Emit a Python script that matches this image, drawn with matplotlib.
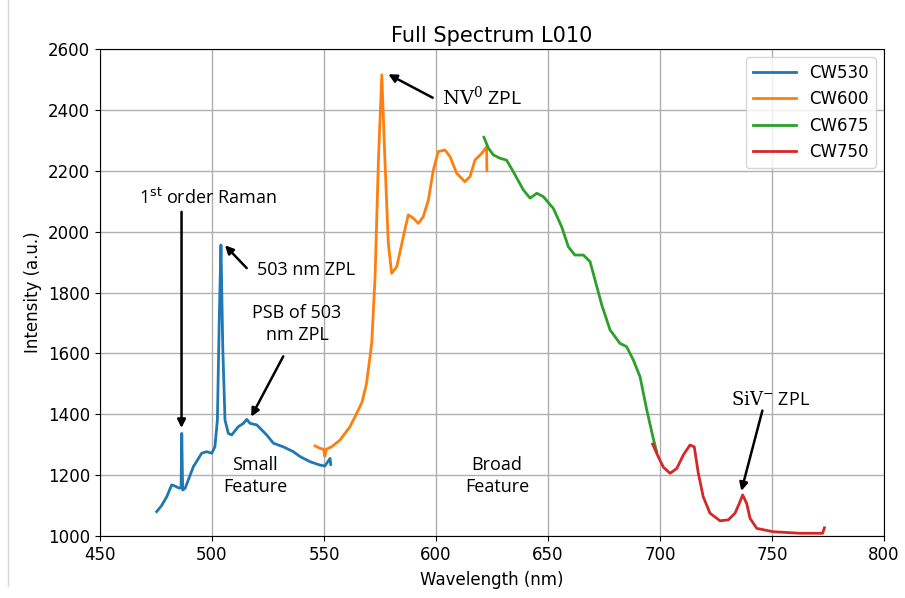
import numpy as np
import matplotlib
matplotlib.use("Agg")
import matplotlib.pyplot as plt
from matplotlib.lines import Line2D

cw530_wl = [475.3, 477.5, 479.8, 482.0, 483.5, 485.4, 486.2, 486.5, 486.9, 488.0, 491.7,
            495.4, 497.6, 499.9, 501.3, 502.4, 503.3, 504.0, 504.8, 505.8, 507.3, 508.8,
            511.7, 514.0, 515.5, 517.0, 520.0, 524.4, 527.4, 531.8, 536.3, 539.3, 543.8,
            548.2, 550.4, 552.7, 553.0]
cw530_i = [1080, 1100, 1129, 1168, 1164, 1157, 1160, 1337, 1151, 1157, 1228,
           1272, 1277, 1272, 1293, 1381, 1732, 1956, 1622, 1381, 1337, 1332,
           1359, 1370, 1383, 1370, 1365, 1332, 1305, 1293, 1277, 1261, 1244,
           1233, 1230, 1255, 1235]

cw600_wl = [546.0, 548.2, 549.8, 550.4, 551.0, 553.4, 557.1, 561.6, 564.6, 567.0, 569.0,
            571.3, 572.8, 574.3, 575.8, 577.2, 578.7, 580.2, 582.5, 585.4, 587.6, 589.9,
            592.1, 594.3, 596.6, 598.8, 601.0, 604.0, 606.3, 609.2, 612.9, 615.2, 617.4,
            620.4, 622.6, 622.7]
cw600_i = [1296, 1288, 1285, 1262, 1285, 1293, 1315, 1359, 1403, 1440, 1502,
           1633, 1852, 2235, 2515, 2235, 1962, 1863, 1885, 1983, 2055, 2044,
           2027, 2049, 2104, 2202, 2263, 2268, 2246, 2192, 2164, 2181, 2235,
           2257, 2279, 2200]

cw675_wl = [621.4, 623.4, 625.6, 628.6, 631.5, 634.5, 639.0, 642.0, 645.0, 647.9, 652.4,
            656.1, 659.1, 662.0, 665.8, 668.8, 671.0, 674.0, 677.7, 682.1, 685.1, 688.1,
            691.1, 694.1, 697.0, 698.5]
cw675_i = [2310, 2274, 2252, 2241, 2235, 2197, 2137, 2110, 2126, 2115, 2076,
           2016, 1950, 1923, 1923, 1901, 1841, 1759, 1677, 1633, 1622, 1578,
           1523, 1414, 1320, 1277]

cw750_wl = [696.7, 699.2, 701.5, 704.5, 707.5, 710.4, 713.4, 715.3, 717.1, 719.3, 722.3,
            726.8, 730.5, 733.5, 735.4, 736.9, 738.7, 740.2, 743.2, 750.6, 762.5, 772.6,
            773.4]
cw750_i = [1302, 1261, 1226, 1206, 1222, 1266, 1299, 1293, 1206, 1129, 1075,
           1050, 1053, 1075, 1107, 1135, 1107, 1058, 1025, 1014, 1009, 1009,
           1027]

series = [("CW530", cw530_wl, cw530_i, "#1f77b4"),
          ("CW600", cw600_wl, cw600_i, "#ff7f0e"),
          ("CW675", cw675_wl, cw675_i, "#2ca02c"),
          ("CW750", cw750_wl, cw750_i, "#d62728")]

fig = plt.figure(figsize=(9.05, 5.98), dpi=100)
ax = fig.add_axes([100 / 905, 62 / 598, 784 / 905, 487 / 598])

for name, wl, inten, col in series:
    ax.plot(wl, inten, color=col, lw=2, label=name)

ax.set_xlim(450, 800)
ax.set_ylim(1000, 2600)
ax.set_xticks(np.arange(450, 801, 50))
ax.set_yticks(np.arange(1000, 2601, 200))
ax.tick_params(labelsize=12)
ax.grid(True, color="#b0b0b0", lw=1)
ax.set_axisbelow(True)
ax.set_title("Full Spectrum L010", fontsize=15, pad=5)
ax.set_xlabel("Wavelength (nm)", fontsize=12, labelpad=5)
ax.set_ylabel("Intensity (a.u.)", fontsize=12)
ax.legend(loc="upper right", fontsize=12, handlelength=2.6)

# annotations
ann_font = dict(fontsize=13, family="Open Sans", ha="center", va="center")
arrow = dict(arrowstyle="-|>", color="black", lw=1.8, mutation_scale=12, shrinkA=0, shrinkB=0)

ax.text(498, 2110, "1$^{\\mathrm{st}}$ order Raman", **ann_font)
ax.annotate("", xy=(486.4, 1355), xytext=(486.4, 2065), arrowprops=arrow)

ax.text(542, 1874, "503 nm ZPL", **ann_font)
ax.annotate("", xy=(505.8, 1955), xytext=(515.5, 1880), arrowprops=arrow)

ax.text(538, 1697, "PSB of 503\nnm ZPL", linespacing=1.3, **ann_font)
ax.annotate("", xy=(517.5, 1392), xytext=(531.8, 1590), arrowprops=arrow)

ax.text(519.2, 1197, "Small\nFeature", linespacing=1.3, **ann_font)
ax.text(627.2, 1197, "Broad\nFeature", linespacing=1.3, **ann_font)

ax.text(620.5, 2440, "$\\mathrm{NV}^0$ ZPL", math_fontfamily="dejavuserif",
        **{**ann_font, "fontsize": 14})
ax.annotate("", xy=(578.7, 2517), xytext=(598.5, 2440), arrowprops=arrow)

ax.text(749.5, 1447, "$\\mathrm{SiV}^{-}$ ZPL", math_fontfamily="dejavuserif", **ann_font)
ax.annotate("", xy=(736.3, 1148), xytext=(745.7, 1412), arrowprops=arrow)

# thin border line at the left of the image
fig.add_artist(Line2D([8 / 905, 8 / 905], [0.02, 1.0], color="#d8d8d8", lw=1))

fig.savefig("out.png", dpi=100)
